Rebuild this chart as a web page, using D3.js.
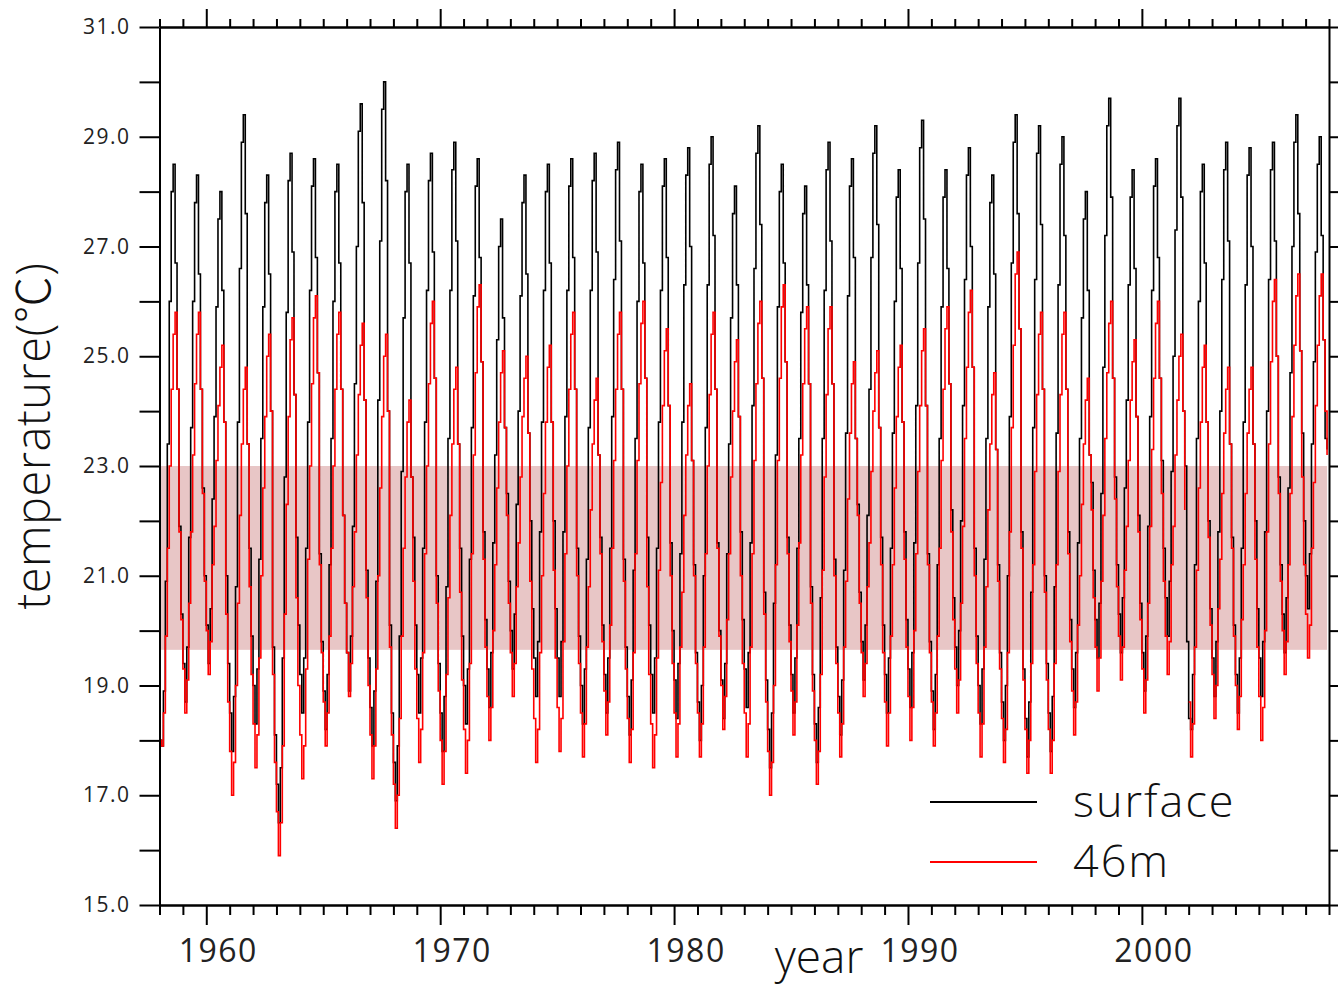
<!DOCTYPE html>
<html>
<head>
<meta charset="utf-8">
<script src="https://cdn.jsdelivr.net/npm/d3@7"></script>
<style>
  html, body { margin: 0; padding: 0; background: #fff; }
  svg { display: block; }
  .tick text { font-family: "Open Sans", "Liberation Sans", sans-serif; fill: #222; }
</style>
</head>
<body>
<svg id="chart" width="1338" height="989"></svg>
<script>
// monthly temperature, one row per year (Jan..Dec)
const startYear = 1958;

const surface = [
  [18.0,17.9,18.9,20.9,23.4,26.0,28.0,28.5,26.7,24.4,21.9,20.3], // 1958
  [19.4,18.7,19.7,21.7,23.7,26.0,27.8,28.3,26.5,24.4,22.6,21.0],
  [20.1,19.4,20.4,22.4,23.9,25.9,27.5,28.0,26.2,23.8,21.0,19.4], // 1960
  [18.5,17.8,18.8,20.8,23.8,26.6,28.9,29.4,27.6,23.4,21.5,19.9],
  [19.0,18.3,19.3,21.3,23.5,25.9,27.8,28.3,26.5,24.0,19.7,18.1],
  [17.2,16.5,17.5,19.5,22.8,25.8,28.2,28.7,26.9,24.3,21.7,20.1],
  [19.2,18.5,19.5,21.5,23.8,26.2,28.1,28.6,26.8,24.7,21.4,19.8],
  [18.9,18.2,19.2,21.2,23.5,26.0,28.0,28.5,26.7,24.4,22.1,20.5], // 1965
  [19.6,18.9,19.9,21.9,24.5,27.0,29.1,29.6,27.8,24.2,21.1,19.5],
  [18.6,17.9,18.9,20.9,24.2,27.1,29.5,30.0,28.2,24.0,20.1,18.5],
  [17.6,16.9,17.9,19.9,22.9,25.7,28.0,28.5,26.7,22.8,21.7,20.1],
  [19.2,18.5,19.5,21.5,23.8,26.2,28.2,28.7,26.9,24.6,21.0,19.4],
  [18.5,17.8,18.8,20.8,23.5,26.2,28.4,28.9,27.1,23.4,21.5,19.9], // 1970
  [19.0,18.3,19.3,21.3,23.7,26.1,28.1,28.6,26.8,24.9,21.8,20.2],
  [19.3,18.6,19.6,21.6,23.2,25.3,27.0,27.5,25.7,23.7,22.5,20.9],
  [20.0,19.3,20.3,22.3,24.0,26.1,27.8,28.3,26.5,23.6,22.0,20.4],
  [19.5,18.8,19.8,21.8,23.8,26.2,28.0,28.5,26.7,23.8,22.0,20.4],
  [19.5,18.8,19.8,21.8,23.9,26.2,28.1,28.6,26.8,24.4,21.5,19.9], // 1975
  [19.0,18.3,19.3,21.3,23.7,26.2,28.2,28.7,26.9,23.2,21.7,20.1],
  [19.2,18.5,19.5,21.5,23.9,26.4,28.4,28.9,27.1,24.4,21.3,19.7],
  [18.8,18.1,19.1,21.1,23.5,26.0,28.0,28.5,26.7,24.6,21.7,20.1],
  [19.2,18.5,19.5,21.5,23.8,26.2,28.1,28.6,26.8,24.1,21.6,20.0],
  [19.1,18.4,19.4,21.4,23.8,26.3,28.3,28.8,27.0,23.1,21.2,19.6], // 1980
  [18.7,18.0,19.0,21.0,23.7,26.3,28.5,29.0,27.2,24.4,21.6,20.0],
  [19.1,18.4,19.4,21.4,23.4,25.7,27.6,28.1,26.3,23.9,21.8,20.2],
  [19.3,18.6,19.6,21.6,24.1,26.6,28.7,29.2,27.4,24.6,20.7,19.1],
  [18.2,17.5,18.5,20.5,23.2,25.9,28.0,28.5,26.7,24.9,21.7,20.1],
  [19.2,18.5,19.5,21.5,23.5,25.8,27.6,28.1,26.3,24.5,20.8,19.2], // 1985
  [18.3,17.6,18.6,20.6,23.5,26.2,28.4,28.9,27.1,24.5,21.3,19.7],
  [18.8,18.1,19.1,21.1,23.6,26.1,28.1,28.6,26.8,23.5,22.3,20.7],
  [19.8,19.1,20.1,22.1,24.4,26.8,28.7,29.2,27.4,23.7,21.7,20.1],
  [19.2,18.5,19.5,21.5,23.6,26.0,27.9,28.4,26.6,23.8,21.8,20.2],
  [19.3,18.6,19.6,21.6,24.1,26.7,28.8,29.3,27.5,24.1,21.4,19.8], // 1990
  [18.9,18.2,19.2,21.2,23.5,25.9,27.9,28.4,26.6,24.5,22.2,20.6],
  [19.7,19.0,20.0,22.0,24.1,26.4,28.3,28.8,27.0,24.8,21.5,19.9],
  [19.0,18.3,19.3,21.3,23.5,25.9,27.8,28.3,26.5,23.3,21.2,19.6],
  [18.7,18.0,19.0,21.0,23.9,26.7,28.9,29.4,27.6,25.5,21.8,19.3],
  [18.4,17.7,18.7,20.7,23.7,26.4,28.7,29.2,27.4,24.4,21.0,19.4], // 1995
  [18.5,17.8,18.8,20.8,23.6,26.3,28.5,29.0,27.2,24.4,21.8,20.2],
  [19.3,18.6,19.6,21.6,23.5,25.7,27.5,28.0,26.2,23.2,22.7,21.1],
  [20.2,19.5,20.5,22.5,24.8,27.2,29.2,29.7,27.9,24.6,22.8,21.2],
  [20.3,19.6,20.6,22.6,24.2,26.3,27.9,28.4,26.6,23.9,22.1,20.5],
  [19.6,18.9,19.9,21.9,23.9,26.2,28.1,28.6,26.8,24.6,23.1,21.5], // 2000
  [20.6,19.9,20.9,22.9,25.0,27.3,29.2,29.7,27.9,24.0,23.0,19.8],
  [18.4,18.2,19.2,21.2,23.5,26.0,28.0,28.5,26.7,23.8,22.0,20.4],
  [19.5,18.8,19.8,21.8,24.0,26.4,28.4,28.9,27.1,23.4,21.7,20.1],
  [19.2,18.5,19.5,21.5,23.8,26.3,28.3,28.8,27.0,23.4,22.0,20.4],
  [19.5,18.8,19.8,21.8,24.0,26.4,28.4,28.9,27.1,25.0,22.8,21.2], // 2005
  [20.3,19.6,20.6,22.6,24.7,27.0,28.9,29.4,27.6,25.1,23.6,22.0],
  [21.0,20.4,21.4,23.4,24.9,26.9,28.5,29.0,27.2,25.3,23.5,23.3]
];

const depth46 = [
  [18.0,17.9,18.5,19.9,21.5,23.0,24.4,25.4,25.8,24.4,21.8,20.2], // 1958
  [19.3,18.5,19.1,20.5,21.8,23.2,24.5,25.4,25.8,24.4,22.5,20.9],
  [20.0,19.2,19.8,21.2,21.9,23.1,24.1,24.8,25.2,23.8,20.3,18.7], // 1960
  [17.8,17.0,17.6,19.0,20.5,22.1,23.4,24.4,24.8,23.4,20.8,19.2],
  [18.3,17.5,18.1,19.5,21.0,22.6,23.9,25.0,25.4,24.0,19.2,17.6],
  [16.7,15.9,16.5,17.9,20.3,22.3,23.9,25.3,25.7,24.3,20.6,19.0],
  [18.1,17.3,17.9,19.3,21.3,23.0,24.5,25.7,26.1,24.7,21.2,19.6],
  [18.7,17.9,18.5,19.9,21.5,23.0,24.4,25.4,25.8,24.4,22.1,20.5], // 1965
  [19.6,18.8,19.4,20.8,21.8,23.2,24.3,25.2,25.6,24.2,20.6,19.0],
  [18.1,17.3,17.9,19.3,21.0,22.6,23.9,25.0,25.4,24.0,19.7,18.1],
  [17.2,16.4,17.0,18.4,19.9,21.5,22.8,23.8,24.2,22.8,20.9,19.3],
  [18.4,17.6,18.2,19.6,21.4,23.0,24.5,25.6,26.0,24.6,20.5,18.9],
  [18.0,17.2,17.8,19.2,20.6,22.1,23.4,24.4,24.8,23.4,20.7,19.1], // 1970
  [18.2,17.4,18.0,19.4,21.4,23.2,24.7,25.9,26.3,24.9,21.3,19.7],
  [18.8,18.0,18.6,20.0,21.2,22.6,23.8,24.7,25.1,23.7,22.1,20.5],
  [19.6,18.8,19.4,20.8,21.6,22.8,23.9,24.6,25.0,23.6,20.9,19.3],
  [18.4,17.6,18.2,19.6,21.0,22.5,23.8,24.8,25.2,23.8,21.1,19.5],
  [18.6,17.8,18.4,19.8,21.4,23.0,24.4,25.4,25.8,24.4,21.0,19.4], // 1975
  [18.5,17.7,18.3,19.7,20.8,22.2,23.4,24.2,24.6,23.2,21.4,19.8],
  [18.9,18.1,18.7,20.1,21.5,23.1,24.4,25.4,25.8,24.4,20.9,19.3],
  [18.4,17.6,18.2,19.6,21.4,23.1,24.5,25.6,26.0,24.6,20.8,19.2],
  [18.3,17.5,18.1,19.5,21.1,22.7,24.1,25.1,25.5,24.1,21.0,19.4],
  [18.5,17.7,18.3,19.7,20.7,22.1,23.2,24.1,24.5,23.1,21.0,19.4], // 1980
  [18.5,17.7,18.3,19.7,21.4,23.0,24.3,25.4,25.8,24.4,21.5,19.9],
  [19.0,18.2,18.8,20.2,21.4,22.8,24.0,24.9,25.3,23.9,21.0,19.4],
  [18.5,17.7,18.3,19.7,21.4,23.1,24.5,25.6,26.0,24.6,20.3,18.7],
  [17.8,17.0,17.6,19.0,21.2,23.1,24.6,25.9,26.3,24.9,21.4,19.8],
  [18.9,18.1,18.7,20.1,21.6,23.2,24.5,25.5,25.9,24.5,20.5,18.9], // 1985
  [18.0,17.2,17.8,19.2,21.1,22.8,24.3,25.5,25.9,24.5,21.0,19.4],
  [18.5,17.7,18.3,19.7,20.9,22.4,23.6,24.5,24.9,23.5,22.1,20.5],
  [19.6,18.8,19.4,20.8,21.6,22.9,24.0,24.7,25.1,23.7,21.2,19.6],
  [18.7,17.9,18.5,19.9,21.2,22.6,23.9,24.8,25.2,23.8,21.3,19.7],
  [18.8,18.0,18.6,20.0,21.4,22.9,24.1,25.1,25.5,24.1,21.2,19.6], // 1990
  [18.7,17.9,18.5,19.9,21.5,23.1,24.4,25.5,25.9,24.5,21.8,20.2],
  [19.3,18.5,19.1,20.5,21.9,23.5,24.8,25.8,26.2,24.8,21.0,19.4],
  [18.5,17.7,18.3,19.7,20.8,22.2,23.4,24.3,24.7,23.3,20.9,19.3],
  [18.4,17.6,18.2,19.6,21.8,23.7,25.2,26.5,26.9,25.5,21.5,19.1],
  [18.2,17.4,18.0,19.4,21.2,22.9,24.3,25.4,25.8,24.4,20.7,19.1], // 1995
  [18.2,17.4,18.0,19.4,21.2,22.9,24.3,25.4,25.8,24.4,21.4,19.8],
  [18.9,18.1,18.7,20.1,21.0,22.3,23.4,24.2,24.6,23.2,22.2,20.6],
  [19.7,18.9,19.5,20.9,22.1,23.5,24.7,25.6,26.0,24.6,22.4,20.8],
  [19.9,19.1,19.7,21.1,21.9,23.1,24.2,24.9,25.3,23.9,21.8,20.2],
  [19.3,18.5,19.1,20.5,21.9,23.3,24.6,25.6,26.0,24.6,22.5,20.9], // 2000
  [19.9,19.2,19.8,21.2,21.9,23.2,24.2,25.0,25.4,24.0,22.2,null],
  [18.7,17.7,18.3,19.7,21.1,22.6,23.8,24.8,25.2,23.8,21.7,20.1],
  [19.2,18.4,19.0,20.4,21.3,22.5,23.6,24.4,24.8,23.4,21.5,19.9],
  [19.0,18.2,18.8,20.2,21.2,22.5,23.6,24.4,24.8,23.4,21.3,19.7],
  [18.8,18.0,18.6,20.0,21.8,23.4,24.9,26.0,26.4,25.0,22.5,20.9], // 2005
  [20.0,19.2,19.8,21.2,22.5,23.9,25.2,26.1,26.5,25.1,22.8,21.2],
  [20.3,19.5,20.1,21.5,22.7,24.1,25.2,26.1,26.5,25.3,24.0,23.2]
];

const yTicks = [15, 16, 17, 18, 19, 20, 21, 22, 23, 24, 25, 26, 27, 28, 29, 30, 31];
const yLabels = ["15.0", "17.0", "19.0", "21.0", "23.0", "25.0", "27.0", "29.0", "31.0"];
const xMajor = [1960, 1970, 1980, 1990, 2000];
const band = [19.65, 23.0];
const seriesNames = ["surface", "46m"];
const seriesColors = ["#000000", "#ff0000"];

const svg = d3.select("#chart");
const plotLeft = 159.5, plotRight = 1329, plotTop = 27, plotBottom = 905;

const x = d3.scaleLinear().domain([startYear, startYear + surface.length]).range([plotLeft, plotRight]);
const y = d3.scaleLinear().domain([15, 31]).range([plotBottom, plotTop]);

function toPoints(rows) {
  return rows.flatMap((row, i) => row.map((v, m) => ({ t: startYear + i + m / 12, v: v })));
}

// shaded band
svg.append("rect")
  .attr("x", x(startYear))
  .attr("y", y(band[1]))
  .attr("width", x(startYear + surface.length - 1 / 12) - x(startYear))
  .attr("height", y(band[0]) - y(band[1]))
  .attr("fill", "#e8c6c6");

const line = d3.line()
  .defined(d => d.v != null)
  .x(d => x(d.t))
  .y(d => y(d.v))
  .curve(d3.curveStepAfter);

svg.append("path")
  .attr("d", line(toPoints(surface)))
  .attr("fill", "none")
  .attr("stroke", seriesColors[0])
  .attr("stroke-width", 1.6);

svg.append("path")
  .attr("d", line(toPoints(depth46)))
  .attr("fill", "none")
  .attr("stroke", seriesColors[1])
  .attr("stroke-width", 1.6);

// axes
const years = d3.range(startYear, startYear + surface.length + 1);
const minorYears = years.filter(d => !xMajor.includes(d));

function styleAxis(g) {
  g.selectAll("path.domain").attr("stroke", "#000").attr("stroke-width", 2);
  g.selectAll(".tick line").attr("stroke", "#000").attr("stroke-width", 2);
}

svg.append("g").attr("transform", `translate(0,${plotBottom})`)
  .call(d3.axisBottom(x).tickValues(minorYears).tickSize(10).tickSizeOuter(0).tickFormat(""))
  .call(styleAxis);
svg.append("g").attr("transform", `translate(0,${plotBottom})`)
  .call(d3.axisBottom(x).tickValues(xMajor).tickSize(20).tickSizeOuter(0).tickFormat(""))
  .call(styleAxis);
svg.append("g").attr("transform", `translate(0,${plotTop})`)
  .call(d3.axisTop(x).tickValues(minorYears).tickSize(8).tickSizeOuter(0).tickFormat(""))
  .call(styleAxis);
svg.append("g").attr("transform", `translate(0,${plotTop})`)
  .call(d3.axisTop(x).tickValues(xMajor).tickSize(18).tickSizeOuter(0).tickFormat(""))
  .call(styleAxis);

svg.append("g").attr("transform", `translate(${plotLeft},0)`)
  .call(d3.axisLeft(y).tickValues(yTicks).tickSize(20).tickPadding(9).tickSizeOuter(0)
    .tickFormat(d => yLabels.includes(d.toFixed(1)) ? d.toFixed(1) : ""))
  .call(styleAxis)
  .call(g => g.selectAll(".tick text")
    .attr("font-size", 21).attr("letter-spacing", 1.5));
svg.append("g").attr("transform", `translate(${plotRight},0)`)
  .call(d3.axisRight(y).tickValues(yTicks).tickSize(20).tickSizeOuter(0).tickFormat(""))
  .call(styleAxis);

// year labels
svg.append("g").selectAll("text")
  .data(xMajor)
  .join("text")
  .attr("x", d => x(d) + 12)
  .attr("y", 962)
  .attr("text-anchor", "middle")
  .attr("font-family", "Open Sans, Liberation Sans, sans-serif")
  .attr("font-size", 32)
  .attr("letter-spacing", 1.5)
  .attr("fill", "#222")
  .text(d => d);

// axis titles
svg.append("text")
  .attr("x", 819).attr("y", 973)
  .attr("text-anchor", "middle")
  .attr("font-family", "Open Sans, sans-serif")
  .attr("font-weight", 300)
  .attr("font-size", 46)
  .attr("fill", "#111")
  .text("year");

svg.append("text")
  .attr("transform", "translate(50,436) rotate(-90)")
  .attr("text-anchor", "middle")
  .attr("font-family", "Open Sans, Noto Sans CJK KR, sans-serif")
  .attr("font-weight", 300)
  .attr("font-size", 47)
  .attr("letter-spacing", 0.5)
  .attr("fill", "#111")
  .text("temperature(℃)");

// legend
const legend = svg.append("g").selectAll("g")
  .data(seriesNames)
  .join("g")
  .attr("transform", (d, i) => `translate(930,${802 + i * 60})`);
legend.append("line")
  .attr("x1", 0).attr("x2", 107)
  .attr("stroke", (d, i) => seriesColors[i])
  .attr("stroke-width", 2);
legend.append("text")
  .attr("x", 143).attr("y", 15)
  .attr("font-family", "Open Sans, sans-serif")
  .attr("font-weight", 300)
  .attr("font-size", 45)
  .attr("letter-spacing", 2)
  .attr("fill", "#111")
  .text(d => d);
</script>
</body>
</html>
